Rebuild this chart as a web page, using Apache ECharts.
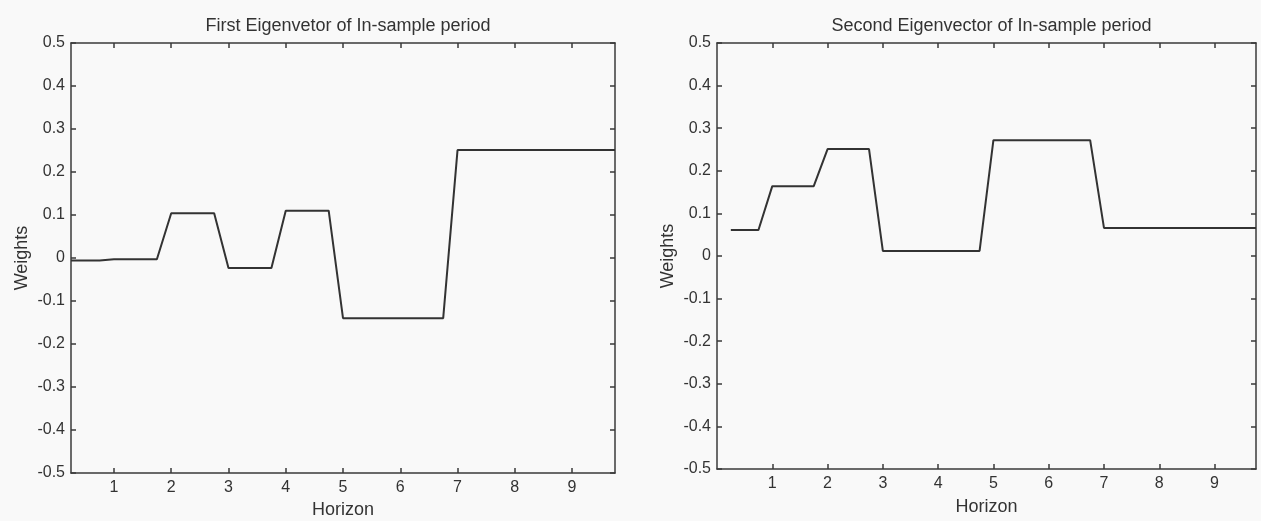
<!DOCTYPE html>
<html>
<head>
<meta charset="utf-8">
<script src="https://cdn.jsdelivr.net/npm/echarts@6/dist/echarts.min.js"></script>
<style>
html,body{margin:0;padding:0;background:#f9f9f9;}
#chart{width:1261px;height:521px;}
</style>
</head>
<body>
<div id="chart"></div>
<script>
// Horizon points (quarterly grid)
const horizon = [0.25,0.5,0.75,1,1.25,1.5,1.75,2,2.25,2.5,2.75,3,3.25,3.5,3.75,4,4.25,4.5,4.75,5,5.25,5.5,5.75,6,6.25,6.5,6.75,7,7.25,7.5,7.75,8,8.25,8.5,8.75,9,9.25,9.5,9.75];
// First eigenvector weights
const firstEig = [-0.006,-0.006,-0.006,-0.003,-0.003,-0.003,-0.003,0.104,0.104,0.104,0.104,-0.023,-0.023,-0.023,-0.023,0.110,0.110,0.110,0.110,-0.140,-0.140,-0.140,-0.140,-0.140,-0.140,-0.140,-0.140,0.251,0.251,0.251,0.251,0.251,0.251,0.251,0.251,0.251,0.251,0.251,0.251];
// Second eigenvector weights
const secondEig = [0.061,0.061,0.061,0.164,0.164,0.164,0.164,0.251,0.251,0.251,0.251,0.012,0.012,0.012,0.012,0.012,0.012,0.012,0.012,0.272,0.272,0.272,0.272,0.272,0.272,0.272,0.272,0.066,0.066,0.066,0.066,0.066,0.066,0.066,0.066,0.066,0.066,0.066,0.066];
const xTicks = [1,2,3,4,5,6,7,8,9];
const titles = ['First Eigenvetor of In-sample period','Second Eigenvector of In-sample period'];
const xName = 'Horizon';
const yName = 'Weights';

const FONT = 'Liberation Sans';
const TXT = '#333';
const AX = '#3a3a3a';

const grids = [
  {left:71, top:43, width:544, height:430},
  {left:717, top:43, width:539, height:426}
];
const xRanges = [[0.25,9.75],[0,9.75]];

const xAxes = [], yAxes = [], series = [], titleArr = [];
grids.forEach((g, i) => {
  const [xmin, xmax] = xRanges[i];
  xAxes.push({
    type:'value', gridIndex:i, position:'bottom', min:xmin, max:xmax,
    name:xName, nameLocation:'middle', nameGap: i===0?26:29,
    nameTextStyle:{fontFamily:FONT, fontSize:18, color:TXT},
    axisLine:{show:true, onZero:false, lineStyle:{color:AX, width:1.5}},
    axisTick:{show:true, inside:true, length:5, customValues:xTicks, lineStyle:{color:AX, width:1.5}},
    axisLabel:{show:true, customValues:xTicks, margin:7, fontFamily:FONT, fontSize:16, color:TXT},
    splitLine:{show:false}
  });
  xAxes.push({
    type:'value', gridIndex:i, position:'top', min:xmin, max:xmax,
    axisLine:{show:true, onZero:false, lineStyle:{color:AX, width:1.5}},
    axisTick:{show:true, inside:true, length:5, customValues:xTicks, lineStyle:{color:AX, width:1.5}},
    axisLabel:{show:false},
    splitLine:{show:false}
  });
  yAxes.push({
    type:'value', gridIndex:i, position:'left', min:-0.5, max:0.5, interval:0.1,
    name:yName, nameLocation:'middle', nameGap:40,
    nameTextStyle:{fontFamily:FONT, fontSize:18, color:TXT},
    axisLine:{show:true, onZero:false, lineStyle:{color:AX, width:1.5}},
    axisTick:{show:true, inside:true, length:5, lineStyle:{color:AX, width:1.5}},
    axisLabel:{margin:6, fontFamily:FONT, fontSize:16, color:TXT,
      formatter: v => { const r = Math.round(v*10)/10; return r===0 ? '0' : String(r); }},
    splitLine:{show:false}
  });
  yAxes.push({
    type:'value', gridIndex:i, position:'right', min:-0.5, max:0.5, interval:0.1,
    axisLine:{show:true, onZero:false, lineStyle:{color:AX, width:1.5}},
    axisTick:{show:true, inside:true, length:5, lineStyle:{color:AX, width:1.5}},
    axisLabel:{show:false},
    splitLine:{show:false}
  });
  titleArr.push({
    text:titles[i], left: g.left + g.width/2, top:12, textAlign:'center',
    textStyle:{fontFamily:FONT, fontSize:18, fontWeight:'normal', color:TXT}
  });
});

const vals = [firstEig, secondEig];
vals.forEach((arr, i) => {
  series.push({
    type:'line', xAxisIndex:i*2, yAxisIndex:i*2,
    data: horizon.map((h, k) => [h, arr[k]]),
    symbol:'none', animation:false,
    lineStyle:{color:'#333', width:2}
  });
});

const chart = echarts.init(document.getElementById('chart'), null, {renderer:'canvas'});
chart.setOption({
  backgroundColor:'#f9f9f9',
  animation:false,
  title:titleArr,
  grid:grids.map(g => Object.assign({containLabel:false, outerBoundsMode:'none'}, g)),
  xAxis:xAxes,
  yAxis:yAxes,
  series:series
});
</script>
</body>
</html>
